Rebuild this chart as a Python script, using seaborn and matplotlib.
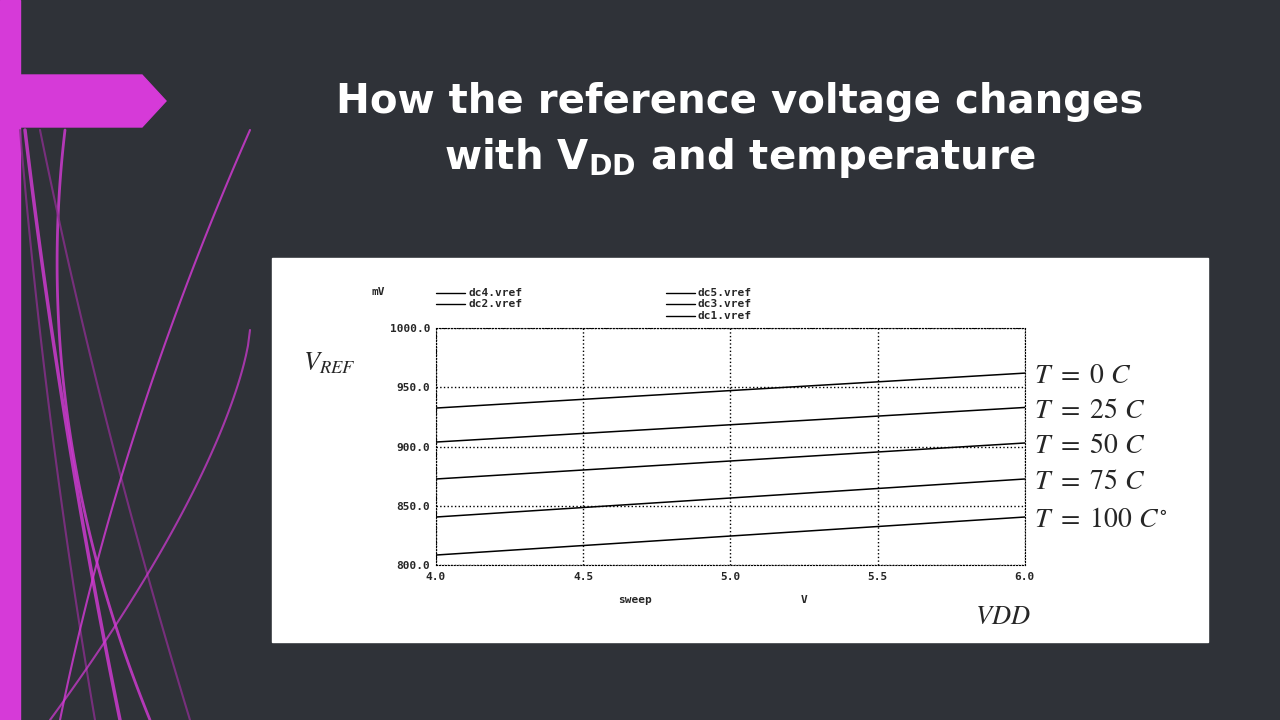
import numpy as np
import pandas as pd
import matplotlib
matplotlib.use("Agg")
import matplotlib.pyplot as plt
import seaborn as sns
from matplotlib.patches import Rectangle, Polygon

# data (mV vs VDD)
vdd = [4.0, 6.0]
temps = ["T\\ =\\ 0\\ C", "T\\ =\\ 25\\ C", "T\\ =\\ 50\\ C", "T\\ =\\ 75\\ C", "T\\ =\\ 100\\ C^{\\circ}"]
v_start = [932.5, 903.8, 872.6, 840.5, 808.4]
v_end = [962.0, 933.0, 903.0, 872.6, 840.5]

rows = []
for t, a, b in zip(temps, v_start, v_end):
    rows.append({"VDD": vdd[0], "Vref": a, "T": t})
    rows.append({"VDD": vdd[1], "Vref": b, "T": t})
df = pd.DataFrame(rows)

sns.set_style("white")
plt.rcParams["font.family"] = ["DejaVu Sans"]
plt.rcParams["mathtext.fontset"] = "stix"

bg = "#2f3238"
mag = "#d63ad8"
fig = plt.figure(figsize=(12.8, 7.2), dpi=100, facecolor=bg)

# slide decoration
deco = fig.add_axes([0, 0, 1, 1])
deco.set_xlim(0, 1280)
deco.set_ylim(720, 0)
deco.axis("off")
deco.add_patch(Rectangle((0, 0), 20, 720, color=mag))
deco.add_patch(Polygon([[20, 75], [142, 75], [166, 101], [142, 127], [20, 127]], color=mag))
t = np.linspace(0, 1, 100)
for x0, x1, x2, c, lw in [(65, 30, 150, mag, 2), (25, 60, 120, mag, 2.5), (40, 100, 190, "#8a2f8e", 1.5),
                          (20, 45, 95, "#8a2f8e", 1.5), (250, 120, 60, mag, 1.5)]:
    xs = (1 - t) ** 2 * x0 + 2 * t * (1 - t) * x1 + t ** 2 * x2
    ys = 130 + t * 590
    deco.plot(xs, ys, color=c, lw=lw, alpha=0.8)
deco.plot(250 - 200 * t, 330 + 390 * t ** 0.7, color=mag, lw=1.5, alpha=0.7)
deco.add_patch(Rectangle((272, 258), 936, 384, color="white"))

fig.text(0.5781, 0.858, "How the reference voltage changes", color="white",
         fontsize=29, fontweight="bold", ha="center", va="center")
fig.text(0.5781, 0.78, r"with V$_{\mathbf{DD}}$ and temperature", color="white",
         fontsize=29, fontweight="bold", ha="center", va="center", math_fontfamily="dejavusans")

ax = fig.add_axes([0.3406, 0.2153, 0.460, 0.329])
ax.set_facecolor("white")
sns.lineplot(data=df, x="VDD", y="Vref", hue="T", palette=["black"] * 5,
             lw=1.1, legend=False, ax=ax)
ax.set_xlim(4.0, 6.0)
ax.set_ylim(800, 1000)
ax.set_xticks([4.0, 4.5, 5.0, 5.5, 6.0])
ax.set_yticks([800, 850, 900, 950, 1000])
ax.set_xticklabels(["4.0", "4.5", "5.0", "5.5", "6.0"], family="monospace", fontsize=8, fontweight="bold")
ax.set_yticklabels(["800.0", "850.0", "900.0", "950.0", "1000.0"], family="monospace", fontsize=8, fontweight="bold")
ax.tick_params(axis="y", length=0, pad=4)
ax.tick_params(axis="x", length=0, pad=5)
ax.grid(True, ls=":", color="black", lw=1)
for s in ax.spines.values():
    s.set_linestyle(":")
    s.set_color("black")
ax.set_xlabel("")
ax.set_ylabel("")

for lab, y in zip(temps, v_end):
    ax.text(6.03, y - 2, "$" + lab + "$", fontsize=20, va="center", ha="left", clip_on=False)
ax.text(-0.225, 0.82, r"$V_{REF}$", transform=ax.transAxes, fontsize=19)
ax.text(0.915, -0.25, r"$VDD$", transform=ax.transAxes, fontsize=19)
ax.text(0.31, -0.16, "sweep", transform=ax.transAxes, fontsize=8, family="monospace", fontweight="bold")
ax.text(0.62, -0.16, "V", transform=ax.transAxes, fontsize=8, family="monospace", fontweight="bold")
ax.text(-0.11, 1.14, "mV", transform=ax.transAxes, fontsize=8, family="monospace", fontweight="bold")

# legend texts
for xl, yl, txt in [(0.0, 1.14, "dc4.vref"), (0.0, 1.09, "dc2.vref"),
                    (0.39, 1.14, "dc5.vref"), (0.39, 1.09, "dc3.vref"), (0.39, 1.04, "dc1.vref")]:
    ax.plot([xl, xl + 0.05], [yl + 0.01, yl + 0.01], transform=ax.transAxes, color="black", lw=1, clip_on=False)
    ax.text(xl + 0.055, yl + 0.01, txt, transform=ax.transAxes, fontsize=8, family="monospace",
            fontweight="bold", va="center")

fig.savefig("out.png", dpi=100, facecolor=bg)
